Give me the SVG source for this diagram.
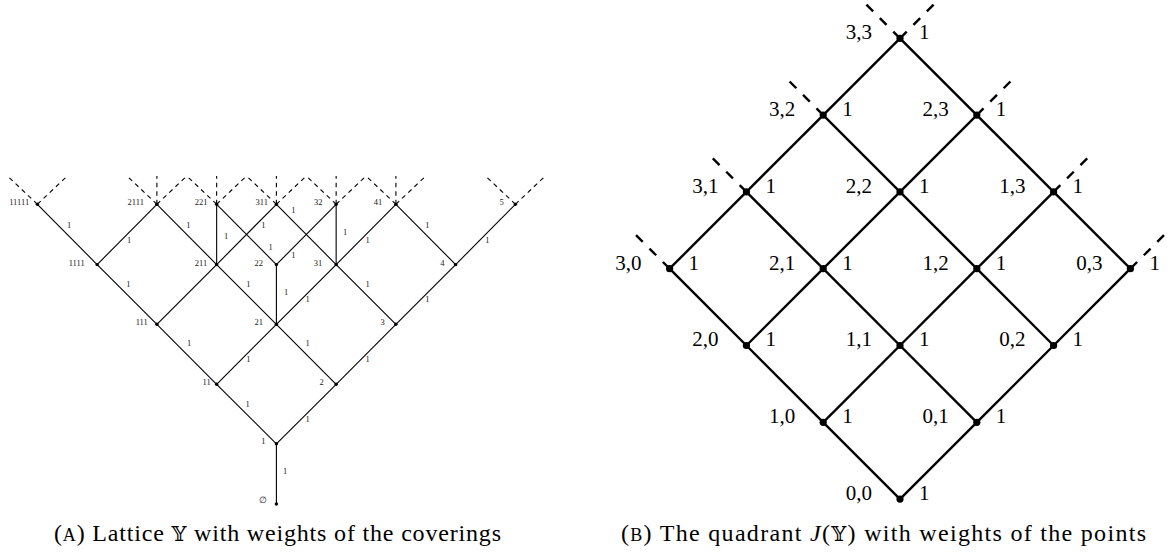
<svg xmlns="http://www.w3.org/2000/svg" width="1169" height="554" viewBox="0 0 1169 554">
<style>
.e{stroke:#000;stroke-width:1.1;fill:none}
.d{stroke:#000;stroke-width:1.1;fill:none;stroke-dasharray:4.5 4}
.n{fill:#000}
.t{font-size:8.5px;fill:#222;text-anchor:middle}
.E{stroke:#000;stroke-width:2.4;fill:none}
.D{stroke:#000;stroke-width:2.4;fill:none;stroke-dasharray:9.5 9.5}
.T{font-size:21px;fill:#000}
.l{text-anchor:end}
.cap{font-size:24px;fill:#000}
</style>
<rect width="1169" height="554" fill="#fff"/>
<g font-family="Liberation Serif, DejaVu Serif, serif">
<!-- (A) connectors -->
<g id="connectors-A">
<line class="e" x1="276.4" y1="504" x2="276.4" y2="443.8"/>
<line class="e" x1="276.4" y1="443.8" x2="216.65" y2="384.3"/>
<line class="e" x1="276.4" y1="443.8" x2="336.15" y2="384.3"/>
<line class="e" x1="216.65" y1="384.3" x2="156.9" y2="324.3"/>
<line class="e" x1="216.65" y1="384.3" x2="276.4" y2="324.3"/>
<line class="e" x1="336.15" y1="384.3" x2="276.4" y2="324.3"/>
<line class="e" x1="336.15" y1="384.3" x2="395.9" y2="324.3"/>
<line class="e" x1="156.9" y1="324.3" x2="97.15" y2="264.6"/>
<line class="e" x1="156.9" y1="324.3" x2="216.65" y2="264.6"/>
<line class="e" x1="276.4" y1="324.3" x2="216.65" y2="264.6"/>
<line class="e" x1="276.4" y1="324.3" x2="276.4" y2="264.6"/>
<line class="e" x1="276.4" y1="324.3" x2="336.15" y2="264.6"/>
<line class="e" x1="395.9" y1="324.3" x2="336.15" y2="264.6"/>
<line class="e" x1="395.9" y1="324.3" x2="455.65" y2="264.6"/>
<line class="e" x1="97.15" y1="264.6" x2="37.4" y2="204.3"/>
<line class="e" x1="97.15" y1="264.6" x2="156.9" y2="204.3"/>
<line class="e" x1="216.65" y1="264.6" x2="156.9" y2="204.3"/>
<line class="e" x1="216.65" y1="264.6" x2="216.65" y2="204.3"/>
<line class="e" x1="216.65" y1="264.6" x2="276.4" y2="204.3"/>
<line class="e" x1="276.4" y1="264.6" x2="216.65" y2="204.3"/>
<line class="e" x1="276.4" y1="264.6" x2="336.15" y2="204.3"/>
<line class="e" x1="336.15" y1="264.6" x2="276.4" y2="204.3"/>
<line class="e" x1="336.15" y1="264.6" x2="336.15" y2="204.3"/>
<line class="e" x1="336.15" y1="264.6" x2="395.9" y2="204.3"/>
<line class="e" x1="455.65" y1="264.6" x2="395.9" y2="204.3"/>
<line class="e" x1="455.65" y1="264.6" x2="515.4" y2="204.3"/>
<line class="d" x1="37.4" y1="204.3" x2="7.5" y2="176"/>
<line class="d" x1="37.4" y1="204.3" x2="67.3" y2="176"/>
<line class="d" x1="156.9" y1="204.3" x2="127" y2="176"/>
<line class="d" x1="156.9" y1="204.3" x2="156.9" y2="176"/>
<line class="d" x1="156.9" y1="204.3" x2="186.8" y2="176"/>
<line class="d" x1="216.65" y1="204.3" x2="186.8" y2="176"/>
<line class="d" x1="216.65" y1="204.3" x2="216.65" y2="176"/>
<line class="d" x1="216.65" y1="204.3" x2="246.5" y2="176"/>
<line class="d" x1="276.4" y1="204.3" x2="246.5" y2="176"/>
<line class="d" x1="276.4" y1="204.3" x2="276.4" y2="176"/>
<line class="d" x1="276.4" y1="204.3" x2="306.3" y2="176"/>
<line class="d" x1="336.15" y1="204.3" x2="306.3" y2="176"/>
<line class="d" x1="336.15" y1="204.3" x2="336.15" y2="176"/>
<line class="d" x1="336.15" y1="204.3" x2="366" y2="176"/>
<line class="d" x1="395.9" y1="204.3" x2="366" y2="176"/>
<line class="d" x1="395.9" y1="204.3" x2="395.9" y2="176"/>
<line class="d" x1="395.9" y1="204.3" x2="425.8" y2="176"/>
<line class="d" x1="515.4" y1="204.3" x2="485.5" y2="176"/>
<line class="d" x1="515.4" y1="204.3" x2="545.3" y2="176"/>
<g class="t">
<text x="285" y="473.7">1</text>
<text x="247.7" y="407">1</text>
<text x="307.7" y="422">1</text>
<text x="189" y="346.3">1</text>
<text x="248.3" y="362">1</text>
<text x="307.7" y="346.3">1</text>
<text x="367.7" y="362">1</text>
<text x="128.3" y="287">1</text>
<text x="248.3" y="287.3">1</text>
<text x="286" y="294.7">1</text>
<text x="307.7" y="302">1</text>
<text x="367.7" y="287">1</text>
<text x="427.3" y="302">1</text>
<text x="69" y="228">1</text>
<text x="129" y="243">1</text>
<text x="188.3" y="228">1</text>
<text x="226" y="239">1</text>
<text x="263.3" y="228">1</text>
<text x="270.7" y="250.3">1</text>
<text x="293.3" y="258">1</text>
<text x="293.3" y="213">1</text>
<text x="345" y="234.7">1</text>
<text x="367.7" y="243">1</text>
<text x="427.3" y="228">1</text>
<text x="487.3" y="243">1</text>
</g>
</g>
<!-- (A) nodes -->
<g id="A-empty"><circle class="n" cx="276.4" cy="504" r="1.7"/><text class="t" x="263.3" y="503">∅</text></g>
<g id="A-1"><circle class="n" cx="276.4" cy="443.8" r="1.7"/><text class="t" x="263.3" y="444">1</text></g>
<g id="A-11"><circle class="n" cx="216.65" cy="384.3" r="1.7"/><text class="t" x="206.7" y="385.3">11</text></g>
<g id="A-2"><circle class="n" cx="336.15" cy="384.3" r="1.7"/><text class="t" x="321.7" y="385.3">2</text></g>
<g id="A-111"><circle class="n" cx="156.9" cy="324.3" r="1.7"/><text class="t" x="141.7" y="325.3">111</text></g>
<g id="A-21"><circle class="n" cx="276.4" cy="324.3" r="1.7"/><text class="t" x="258.7" y="325.3">21</text></g>
<g id="A-3"><circle class="n" cx="395.9" cy="324.3" r="1.7"/><text class="t" x="382.7" y="325.3">3</text></g>
<g id="A-1111"><circle class="n" cx="97.15" cy="264.6" r="1.7"/><text class="t" x="76.7" y="265.6">1111</text></g>
<g id="A-211"><circle class="n" cx="216.65" cy="264.6" r="1.7"/><text class="t" x="201" y="265.6">211</text></g>
<g id="A-22"><circle class="n" cx="276.4" cy="264.6" r="1.7"/><text class="t" x="258.8" y="265.6">22</text></g>
<g id="A-31"><circle class="n" cx="336.15" cy="264.6" r="1.7"/><text class="t" x="318" y="265.6">31</text></g>
<g id="A-4"><circle class="n" cx="455.65" cy="264.6" r="1.7"/><text class="t" x="442.3" y="265.6">4</text></g>
<g id="A-11111"><circle class="n" cx="37.4" cy="204.3" r="1.7"/><text class="t" x="19.2" y="205.3">11111</text></g>
<g id="A-2111"><circle class="n" cx="156.9" cy="204.3" r="1.7"/><text class="t" x="135.8" y="205.3">2111</text></g>
<g id="A-221"><circle class="n" cx="216.65" cy="204.3" r="1.7"/><text class="t" x="201" y="205.3">221</text></g>
<g id="A-311"><circle class="n" cx="276.4" cy="204.3" r="1.7"/><text class="t" x="261.7" y="205.3">311</text></g>
<g id="A-32"><circle class="n" cx="336.15" cy="204.3" r="1.7"/><text class="t" x="318.3" y="205.3">32</text></g>
<g id="A-41"><circle class="n" cx="395.9" cy="204.3" r="1.7"/><text class="t" x="378" y="205.3">41</text></g>
<g id="A-5"><circle class="n" cx="515.4" cy="204.3" r="1.7"/><text class="t" x="501.7" y="205.3">5</text></g>

<!-- (B) connectors -->
<g id="connectors-B">
<line class="E" x1="900" y1="499.1" x2="823.2" y2="422.3"/>
<line class="E" x1="823.2" y1="422.3" x2="746.4" y2="345.5"/>
<line class="E" x1="746.4" y1="345.5" x2="669.6" y2="268.7"/>
<line class="E" x1="976.8" y1="422.3" x2="900" y2="345.5"/>
<line class="E" x1="900" y1="345.5" x2="823.2" y2="268.7"/>
<line class="E" x1="823.2" y1="268.7" x2="746.4" y2="191.9"/>
<line class="E" x1="1053.6" y1="345.5" x2="976.8" y2="268.7"/>
<line class="E" x1="976.8" y1="268.7" x2="900" y2="191.9"/>
<line class="E" x1="900" y1="191.9" x2="823.2" y2="115.1"/>
<line class="E" x1="1130.4" y1="268.7" x2="1053.6" y2="191.9"/>
<line class="E" x1="1053.6" y1="191.9" x2="976.8" y2="115.1"/>
<line class="E" x1="976.8" y1="115.1" x2="900" y2="38.3"/>
<line class="E" x1="900" y1="499.1" x2="976.8" y2="422.3"/>
<line class="E" x1="976.8" y1="422.3" x2="1053.6" y2="345.5"/>
<line class="E" x1="1053.6" y1="345.5" x2="1130.4" y2="268.7"/>
<line class="E" x1="823.2" y1="422.3" x2="900" y2="345.5"/>
<line class="E" x1="900" y1="345.5" x2="976.8" y2="268.7"/>
<line class="E" x1="976.8" y1="268.7" x2="1053.6" y2="191.9"/>
<line class="E" x1="746.4" y1="345.5" x2="823.2" y2="268.7"/>
<line class="E" x1="823.2" y1="268.7" x2="900" y2="191.9"/>
<line class="E" x1="900" y1="191.9" x2="976.8" y2="115.1"/>
<line class="E" x1="669.6" y1="268.7" x2="746.4" y2="191.9"/>
<line class="E" x1="746.4" y1="191.9" x2="823.2" y2="115.1"/>
<line class="E" x1="823.2" y1="115.1" x2="900" y2="38.3"/>
<line class="D" x1="669.6" y1="268.7" x2="635.6" y2="234.7"/>
<line class="D" x1="746.4" y1="191.9" x2="712.4" y2="157.9"/>
<line class="D" x1="823.2" y1="115.1" x2="789.2" y2="81.1"/>
<line class="D" x1="900" y1="38.3" x2="866" y2="4.3"/>
<line class="D" x1="900" y1="38.3" x2="934" y2="4.3"/>
<line class="D" x1="976.8" y1="115.1" x2="1010.8" y2="81.1"/>
<line class="D" x1="1053.6" y1="191.9" x2="1087.6" y2="157.9"/>
<line class="D" x1="1130.4" y1="268.7" x2="1164.4" y2="234.7"/>
</g>
<!-- (B) nodes -->
<g id="B-0-0"><circle class="n" cx="900" cy="499.1" r="3.6"/><text class="T l" x="872" y="500">0,0</text><text class="T" x="919" y="500">1</text></g>
<g id="B-1-0"><circle class="n" cx="823.2" cy="422.3" r="3.6"/><text class="T l" x="795.2" y="423.2">1,0</text><text class="T" x="842.2" y="423.2">1</text></g>
<g id="B-0-1"><circle class="n" cx="976.8" cy="422.3" r="3.6"/><text class="T l" x="948.8" y="423.2">0,1</text><text class="T" x="995.8" y="423.2">1</text></g>
<g id="B-2-0"><circle class="n" cx="746.4" cy="345.5" r="3.6"/><text class="T l" x="718.4" y="346.4">2,0</text><text class="T" x="765.4" y="346.4">1</text></g>
<g id="B-1-1"><circle class="n" cx="900" cy="345.5" r="3.6"/><text class="T l" x="872" y="346.4">1,1</text><text class="T" x="919" y="346.4">1</text></g>
<g id="B-0-2"><circle class="n" cx="1053.6" cy="345.5" r="3.6"/><text class="T l" x="1025.6" y="346.4">0,2</text><text class="T" x="1072.6" y="346.4">1</text></g>
<g id="B-3-0"><circle class="n" cx="669.6" cy="268.7" r="3.6"/><text class="T l" x="641.6" y="269.6">3,0</text><text class="T" x="688.6" y="269.6">1</text></g>
<g id="B-2-1"><circle class="n" cx="823.2" cy="268.7" r="3.6"/><text class="T l" x="795.2" y="269.6">2,1</text><text class="T" x="842.2" y="269.6">1</text></g>
<g id="B-1-2"><circle class="n" cx="976.8" cy="268.7" r="3.6"/><text class="T l" x="948.8" y="269.6">1,2</text><text class="T" x="995.8" y="269.6">1</text></g>
<g id="B-0-3"><circle class="n" cx="1130.4" cy="268.7" r="3.6"/><text class="T l" x="1102.4" y="269.6">0,3</text><text class="T" x="1149.4" y="269.6">1</text></g>
<g id="B-3-1"><circle class="n" cx="746.4" cy="191.9" r="3.6"/><text class="T l" x="718.4" y="192.8">3,1</text><text class="T" x="765.4" y="192.8">1</text></g>
<g id="B-2-2"><circle class="n" cx="900" cy="191.9" r="3.6"/><text class="T l" x="872" y="192.8">2,2</text><text class="T" x="919" y="192.8">1</text></g>
<g id="B-1-3"><circle class="n" cx="1053.6" cy="191.9" r="3.6"/><text class="T l" x="1025.6" y="192.8">1,3</text><text class="T" x="1072.6" y="192.8">1</text></g>
<g id="B-3-2"><circle class="n" cx="823.2" cy="115.1" r="3.6"/><text class="T l" x="795.2" y="116">3,2</text><text class="T" x="842.2" y="116">1</text></g>
<g id="B-2-3"><circle class="n" cx="976.8" cy="115.1" r="3.6"/><text class="T l" x="948.8" y="116">2,3</text><text class="T" x="995.8" y="116">1</text></g>
<g id="B-3-3"><circle class="n" cx="900" cy="38.3" r="3.6"/><text class="T l" x="872" y="39.2">3,3</text><text class="T" x="919" y="39.2">1</text></g>

<!-- captions -->
<text class="cap" x="54" y="541" textLength="447" lengthAdjust="spacing">(<tspan font-size="18">A</tspan>) Lattice <tspan font-family="DejaVu Serif, DejaVu Sans, serif" font-size="21">𝕐</tspan> with weights of the coverings</text>
<text class="cap" x="621" y="541" textLength="525" lengthAdjust="spacing">(<tspan font-size="18">B</tspan>) The quadrant <tspan font-style="italic">J</tspan>(<tspan font-family="DejaVu Serif, DejaVu Sans, serif" font-size="21">𝕐</tspan>) with weights of the points</text>
</g>
</svg>
